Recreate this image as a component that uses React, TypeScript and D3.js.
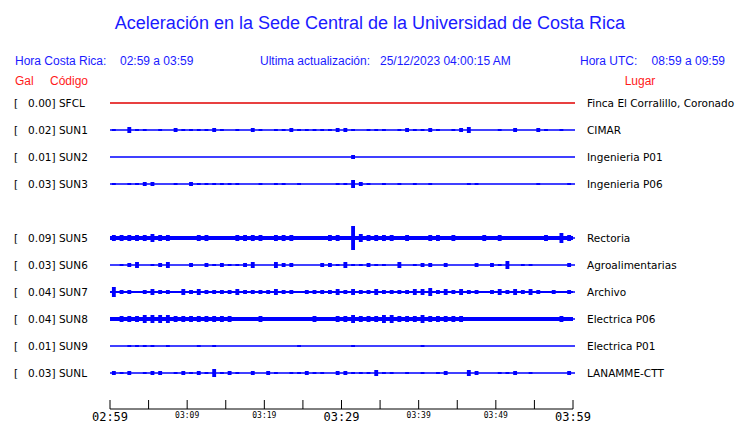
import React from "react";
import { scaleLinear, range, min, area, curveStepAfter } from "d3";

// peak acceleration (Gal) per station
const codes = ["SFCL", "SUN1", "SUN2", "SUN3", "SUN5", "SUN6", "SUN7", "SUN8", "SUN9", "SUNL"];
const peaks = [0.0, 0.02, 0.01, 0.03, 0.09, 0.03, 0.04, 0.04, 0.01, 0.03];
const places = [
  "Finca El Corralillo, Coronado",
  "CIMAR",
  "Ingenieria P01",
  "Ingenieria P06",
  "Rectoria",
  "Agroalimentarias",
  "Archivo",
  "Electrica P06",
  "Electrica P01",
  "LANAMME-CTT",
];
// row slot of each station (slot 4 is empty in the original)
const slots = [0, 1, 2, 3, 5, 6, 7, 8, 9, 10];

// envelope half-amplitude per minute (60 minutes, 02:59 -> 03:59)
const envSFCL = new Array(60).fill(0);
const envSUN1 = [1,0,3,1,1,0,1,0,2,1, 1,1,1,2,1,0,1,0,2,1, 0,1,1,2,1,1,1,1,1,2, 2,1,0,1,1,1,0,1,2,1, 1,2,1,0,1,2,3,0,0,0, 1,0,2,0,0,2,1,0,1,0];
const envSUN2 = [0,0,0,0,0,0,0,0,0,0, 0,0,0,0,0,0,0,0,0,0, 0,0,0,0,0,0,0,0,0,0, 0,2,0,0,0,0,0,0,0,0, 0,0,0,0,0,0,0,0,0,0, 0,0,0,0,0,0,0,0,0,0];
const envSUN3 = [1,0,1,1,2,2,0,0,1,0, 2,1,1,1,1,1,1,0,0,1, 0,1,1,0,1,0,0,0,0,1, 1,4,2,1,0,1,0,1,0,1, 0,1,0,0,0,0,1,1,0,0, 0,0,0,0,0,1,0,0,0,1];
const envSUN5 = [3,3,3,3,3,4,3,3,2,2, 2,3,3,2,2,2,3,3,3,3, 2,3,3,3,2,2,2,2,3,3, 2,12,4,3,3,3,3,2,3,2, 2,3,3,2,3,2,2,2,3,2, 3,2,2,2,2,2,3,2,5,3];
const envSUN6 = [0,1,2,3,0,1,2,3,0,0, 2,0,2,1,2,1,1,2,3,0, 0,3,2,2,0,0,0,2,2,1, 3,1,1,2,1,1,0,3,0,1, 2,2,0,2,0,0,0,2,0,2, 1,4,0,1,1,0,0,0,0,2];
const envSUN7 = [5,2,2,1,2,3,2,2,1,3, 2,3,2,2,2,2,3,2,2,2, 2,3,2,2,1,2,2,2,2,3, 2,3,2,2,3,2,2,2,2,3, 3,4,2,3,2,3,2,2,1,2, 3,2,3,2,3,2,1,2,1,2];
const envSUN8 = [2,3,3,3,4,4,4,4,3,3, 3,3,3,3,3,3,2,2,2,3, 2,2,2,2,2,2,3,2,2,3, 3,4,3,3,3,4,4,3,3,3, 4,3,3,3,3,3,2,2,2,2, 2,2,2,2,2,2,2,2,3,2];
const envSUN9 = [0,0,1,1,1,1,0,1,0,0, 0,1,0,1,0,0,0,0,0,0, 0,0,0,0,1,0,0,0,0,0, 0,1,0,0,0,0,0,0,0,0, 1,0,0,0,0,0,0,0,0,0, 0,0,0,0,0,0,0,0,0,0];
const envSUNL = [2,1,2,0,1,2,2,0,1,2, 1,2,1,4,1,2,1,0,2,0, 2,1,0,1,1,2,1,1,0,2, 2,1,1,1,3,1,1,0,1,0, 1,0,1,2,0,0,3,2,0,0, 1,1,2,0,1,0,0,0,0,2];
const envelopes = [envSFCL, envSUN1, envSUN2, envSUN3, envSUN5, envSUN6, envSUN7, envSUN8, envSUN9, envSUNL];

// axis ticks every 5 minutes, labelled every 10
const tickMinutes = range(0, 61, 5);
const tickLabels = ["02:59", "03:09", "03:19", "03:29", "03:39", "03:49", "03:59"];

const BLUE = "#1a1aff";
const RED = "#ff1a1a";

export default function App() {
  const W = 740;
  const H = 423;
  const X0 = 110;
  const X1 = 573;
  const ROW0 = 103;
  const ROW_STEP = 27;
  const AXIS_Y = 409;

  const x = scaleLinear().domain([0, 60]).range([X0, X1]);
  const amp = scaleLinear().domain([0, 1]).range([0, 1]);
  const binW = x(1) - x(0);

  return (
    <div style={{ position: "fixed", left: 0, top: 0, background: "#fff" }}>
      <svg width={W} height={H} style={{ display: "block" }}>
        <rect width={W} height={H} fill="#fff" />
        <text x={370} y={29} textAnchor="middle" fontFamily="Liberation Sans, Arial" fontSize={18} fill={BLUE}>
          Aceleración en la Sede Central de la Universidad de Costa Rica
        </text>
        <g fontFamily="Liberation Sans, Arial" fontSize={12} fill={BLUE}>
          <text x={15} y={65}>Hora Costa Rica:</text>
          <text x={120} y={65}>02:59 a 03:59</text>
          <text x={260} y={65}>Ultima actualización:</text>
          <text x={380} y={65}>25/12/2023 04:00:15 AM</text>
          <text x={580} y={65}>Hora UTC:</text>
          <text x={725} y={65} textAnchor="end">08:59 a 09:59</text>
        </g>
        <g fontFamily="Liberation Sans, Arial" fontSize={12} fill={RED}>
          <text x={15} y={85}>Gal</text>
          <text x={50} y={85}>Código</text>
          <text x={640} y={85} textAnchor="middle">Lugar</text>
        </g>

        {codes.map((code, i) => {
          const cy = ROW0 + slots[i] * ROW_STEP;
          const env = envelopes[i];
          const color = code === "SFCL" ? "#e00000" : "#0000ff";
          const floor = min(env) ?? 0;
          const band = area<number>()
            .x((_, j) => x(j))
            .y0(() => cy - amp(floor))
            .y1(() => cy + amp(floor))
            .curve(curveStepAfter);
          return (
            <g key={code}>
              <text
                x={14}
                y={cy + 4}
                fontFamily="DejaVu Sans"
                fontSize={10.5}
                fill="#000"
                style={{ whiteSpace: "pre" }}
              >
                {`[   ${peaks[i].toFixed(2)}] ${code}`}
              </text>
              <line x1={X0} x2={X1 + 2} y1={cy} y2={cy} stroke={color} strokeWidth={1.5} />
              {floor > 0 && <path d={band([...env, env[59]])!} fill={color} />}
              {env.map((v, j) =>
                v > floor ? (
                  <rect
                    key={j}
                    x={x(j) + binW * 0.25}
                    width={binW * 0.5}
                    y={cy - amp(v)}
                    height={amp(v) * 2}
                    fill={color}
                  />
                ) : null
              )}
              <text x={587} y={cy + 4} fontFamily="DejaVu Sans" fontSize={10.5} fill="#000">
                {places[i]}
              </text>
            </g>
          );
        })}

        <g>
          <line x1={x(0)} x2={x(60)} y1={AXIS_Y} y2={AXIS_Y} stroke="#000" />
          {tickMinutes.map((m) => (
            <line key={m} x1={x(m)} x2={x(m)} y1={AXIS_Y - 9} y2={AXIS_Y} stroke="#000" />
          ))}
          {tickLabels.map((t, k) => {
            const big = k % 3 === 0;
            return (
              <text
                key={t}
                x={x(k * 10)}
                y={big ? 421 : 418}
                textAnchor="middle"
                fontFamily="DejaVu Sans Mono"
                fontSize={big ? 12 : 8}
                fill="#000"
              >
                {t}
              </text>
            );
          })}
        </g>
      </svg>
    </div>
  );
}
